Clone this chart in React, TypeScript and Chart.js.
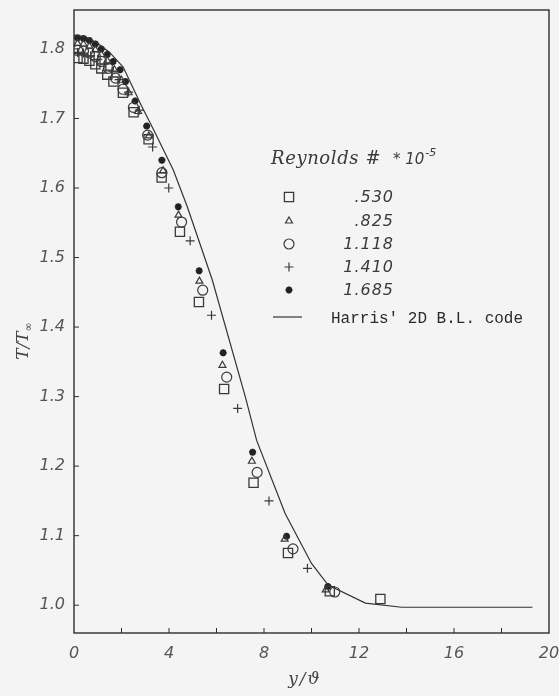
import React, { useEffect, useRef } from 'react';
import { Chart, registerables } from 'chart.js';
Chart.register(...registerables);

// ---- axis ranges & ticks ----
const X_MIN = 0;
const X_MAX = 20;
const Y_MIN = 0.96;
const Y_MAX = 1.856;
const xTickValues = [0, 2, 4, 6, 8, 10, 12, 14, 16, 18, 20];
const xLabelValues = [0, 4, 8, 12, 16, 20];
const yTickValues = [1.0, 1.1, 1.2, 1.3, 1.4, 1.5, 1.6, 1.7, 1.8];

// ---- legend / titles ----
const legendTitle = 'Reynolds #';
const legendFactor = '* 10';
const legendExp = '-5';
const seriesLabels = ['.530', '.825', '1.118', '1.410', '1.685'];
const curveLabel = "Harris' 2D B.L. code";
const xTitle = 'y/\u03D1';
const yTitleMain = 'T/T';
const yTitleSub = '\u221E';

// ---- data ----
const re530X = [0.15, 0.4, 0.65, 0.9, 1.15, 1.4, 1.66, 2.06, 2.51, 3.14, 3.69, 4.46, 5.26, 6.32, 7.56, 9.01, 10.77, 12.9];
const re530Y = [1.787, 1.786, 1.783, 1.778, 1.772, 1.763, 1.753, 1.737, 1.709, 1.67, 1.615, 1.537, 1.436, 1.311, 1.176, 1.075, 1.02, 1.009];

const re825X = [0.15, 0.4, 0.65, 0.9, 1.15, 1.4, 1.7, 2.0, 2.3, 2.7, 3.15, 3.75, 4.4, 5.28, 6.25, 7.49, 8.87, 10.6];
const re825Y = [1.808, 1.807, 1.804, 1.799, 1.792, 1.783, 1.77, 1.755, 1.737, 1.71, 1.675, 1.625, 1.561, 1.466, 1.345, 1.207, 1.095, 1.022];

const re1118X = [0.15, 0.4, 0.65, 0.9, 1.15, 1.45, 1.75, 2.06, 2.5, 3.1, 3.7, 4.53, 5.42, 6.43, 7.71, 9.22, 10.98];
const re1118Y = [1.798, 1.797, 1.794, 1.789, 1.782, 1.772, 1.758, 1.742, 1.716, 1.676, 1.622, 1.551, 1.453, 1.328, 1.191, 1.081, 1.019];

const re1410X = [0.15, 0.4, 0.7, 1.0, 1.3, 1.6, 1.9, 2.3, 2.75, 3.31, 3.99, 4.89, 5.79, 6.89, 8.21, 9.83];
const re1410Y = [1.795, 1.794, 1.79, 1.785, 1.778, 1.768, 1.756, 1.738, 1.712, 1.659, 1.6, 1.524, 1.417, 1.283, 1.15, 1.053];

const re1685X = [0.15, 0.4, 0.65, 0.9, 1.15, 1.4, 1.65, 1.94, 2.17, 2.57, 3.06, 3.7, 4.39, 5.27, 6.28, 7.52, 8.95, 10.69];
const re1685Y = [1.816, 1.815, 1.812, 1.807, 1.8, 1.792, 1.782, 1.77, 1.753, 1.725, 1.689, 1.64, 1.573, 1.481, 1.363, 1.22, 1.099, 1.027];

const harrisX = [0, 0.5, 1.0, 1.5, 2.07, 2.83, 3.42, 4.18, 4.77, 5.82, 7.22, 7.69, 8.89, 10.0, 10.7, 12.27, 13.8, 19.3];
const harrisY = [1.82, 1.817, 1.808, 1.795, 1.774, 1.719, 1.679, 1.626, 1.573, 1.468, 1.299, 1.237, 1.132, 1.06, 1.029, 1.003, 0.997, 0.997];

const pts = (xs: number[], ys: number[]) => xs.map((x, i) => ({ x, y: ys[i] }));

const INK = '#3a3a3a';
const BG = '#f4f4f4';

type Mk = { style: string; r: number; w: number; color: string };
const markers: Mk[] = [
  { style: 'rect', r: 6.5, w: 1.3, color: INK },
  { style: 'triangle', r: 4, w: 1.2, color: INK },
  { style: 'circle', r: 5, w: 1.2, color: INK },
  { style: 'cross', r: 4.5, w: 1.2, color: INK },
  { style: 'star', r: 3.5, w: 2.2, color: '#222' },
];

function drawMarker(ctx: CanvasRenderingContext2D, m: Mk, x: number, y: number) {
  ctx.save();
  ctx.strokeStyle = m.color;
  ctx.lineWidth = m.w;
  ctx.beginPath();
  const r = m.r;
  if (m.style === 'rect') {
    const s = r * Math.SQRT1_2;
    ctx.rect(x - s, y - s, 2 * s, 2 * s);
  } else if (m.style === 'triangle') {
    let a = 0;
    ctx.moveTo(x + Math.sin(a) * r, y - Math.cos(a) * r);
    a += (2 * Math.PI) / 3;
    ctx.lineTo(x + Math.sin(a) * r, y - Math.cos(a) * r);
    a += (2 * Math.PI) / 3;
    ctx.lineTo(x + Math.sin(a) * r, y - Math.cos(a) * r);
    ctx.closePath();
  } else if (m.style === 'circle') {
    ctx.arc(x, y, r, 0, Math.PI * 2);
  } else if (m.style === 'cross') {
    ctx.moveTo(x, y - r); ctx.lineTo(x, y + r);
    ctx.moveTo(x - r, y); ctx.lineTo(x + r, y);
  } else if (m.style === 'star') {
    ctx.moveTo(x, y - r); ctx.lineTo(x, y + r);
    ctx.moveTo(x - r, y); ctx.lineTo(x + r, y);
    const d = r * Math.SQRT1_2;
    ctx.moveTo(x - d, y - d); ctx.lineTo(x + d, y + d);
    ctx.moveTo(x - d, y + d); ctx.lineTo(x + d, y - d);
  }
  ctx.stroke();
  ctx.restore();
}

const decor = {
  id: 'decor',
  beforeDraw(chart: any) {
    const ctx = chart.ctx;
    ctx.save();
    ctx.fillStyle = BG;
    ctx.fillRect(0, 0, chart.width, chart.height);
    ctx.restore();
  },
  afterDraw(chart: any) {
    const { ctx, chartArea: a, scales } = chart;
    const xs = scales.x;
    const ys = scales.y;
    ctx.save();
    // frame
    ctx.strokeStyle = '#2e2e2e';
    ctx.lineWidth = 1.4;
    ctx.strokeRect(a.left, a.top, a.right - a.left, a.bottom - a.top);
    // inward ticks
    ctx.lineWidth = 1;
    ctx.beginPath();
    xs.ticks.forEach((t: any) => {
      if (t.value > X_MIN && t.value < X_MAX) {
        const px = xs.getPixelForValue(t.value);
        ctx.moveTo(px, a.bottom);
        ctx.lineTo(px, a.bottom - 5);
      }
    });
    ys.ticks.forEach((t: any) => {
      const py = ys.getPixelForValue(t.value);
      ctx.moveTo(a.left, py);
      ctx.lineTo(a.left + 5, py);
    });
    ctx.stroke();

    // x title
    ctx.fillStyle = '#444';
    ctx.font = 'italic 17px "DejaVu Serif"';
    (ctx as any).letterSpacing = '2px';
    ctx.textAlign = 'center';
    ctx.textBaseline = 'middle';
    ctx.fillText(xTitle, 305, 680);
    (ctx as any).letterSpacing = '0px';

    // y title (rotated)
    ctx.save();
    ctx.translate(22, 341);
    ctx.rotate(-Math.PI / 2);
    ctx.font = 'italic 17px "DejaVu Serif"';
    const wMain = ctx.measureText(yTitleMain).width;
    ctx.font = '11px "DejaVu Sans"';
    const wSub = ctx.measureText(yTitleSub).width;
    const start = -(wMain + wSub) / 2;
    ctx.textAlign = 'left';
    ctx.textBaseline = 'alphabetic';
    ctx.font = 'italic 17px "DejaVu Serif"';
    ctx.fillText(yTitleMain, start, 6);
    ctx.font = '11px "DejaVu Sans"';
    ctx.fillText(yTitleSub, start + wMain, 10);
    ctx.restore();

    // legend header
    ctx.fillStyle = '#3a3a3a';
    ctx.textAlign = 'left';
    ctx.textBaseline = 'alphabetic';
    ctx.font = 'italic 18px "DejaVu Serif"';
    (ctx as any).letterSpacing = '0.6px';
    ctx.fillText(legendTitle, 271, 164);
    (ctx as any).letterSpacing = '0px';
    ctx.font = 'italic 15px "DejaVu Sans"';
    ctx.fillText(legendFactor, 393, 164);
    const wf = ctx.measureText(legendFactor).width;
    ctx.font = 'italic 11px "DejaVu Sans"';
    ctx.fillText(legendExp, 393 + wf + 1, 156);

    // legend entries
    const rowsY = [197, 221, 244, 267, 290];
    ctx.font = 'italic 16px "DejaVu Sans"';
    (ctx as any).letterSpacing = '1px';
    ctx.textAlign = 'right';
    ctx.textBaseline = 'middle';
    rowsY.forEach((yy, i) => {
      drawMarker(ctx, markers[i], 289, yy);
      ctx.fillStyle = '#3a3a3a';
      ctx.fillText(seriesLabels[i], 394, yy + 1);
    });
    (ctx as any).letterSpacing = '0px';
    ctx.strokeStyle = '#333';
    ctx.lineWidth = 1.2;
    ctx.beginPath();
    ctx.moveTo(273, 317);
    ctx.lineTo(302, 317);
    ctx.stroke();
    ctx.font = '16px "Liberation Mono"';
    ctx.textAlign = 'left';
    ctx.fillStyle = '#2a2a2a';
    ctx.fillText(curveLabel, 331, 319);
    ctx.restore();
  },
};

const seriesX = [re530X, re825X, re1118X, re1410X, re1685X];
const seriesY = [re530Y, re825Y, re1118Y, re1410Y, re1685Y];

export default function App() {
  const ref = useRef<HTMLCanvasElement | null>(null);
  useEffect(() => {
    if (!ref.current) return;
    const datasets: any[] = [
      {
        label: curveLabel,
        data: pts(harrisX, harrisY),
        showLine: true,
        borderColor: '#333',
        borderWidth: 1.2,
        pointRadius: 0,
        tension: 0,
      },
    ];
    seriesX.forEach((xs, i) => {
      const m = markers[i];
      datasets.push({
        label: seriesLabels[i],
        data: pts(xs, seriesY[i]),
        showLine: false,
        pointStyle: m.style,
        pointRadius: m.r,
        pointBorderWidth: m.w,
        pointBorderColor: m.color,
        pointBackgroundColor: 'rgba(0,0,0,0)',
        borderColor: m.color,
        backgroundColor: 'rgba(0,0,0,0)',
      });
    });
    const tickFont = { family: 'DejaVu Sans', style: 'italic' as const, size: 16 };
    const chart = new Chart(ref.current, {
      type: 'scatter',
      data: { datasets },
      options: {
        animation: false,
        responsive: false,
        devicePixelRatio: 1,
        layout: { padding: { top: 10, right: 10, left: 0, bottom: 0 } },
        plugins: { legend: { display: false }, tooltip: { enabled: false } },
        events: [],
        scales: {
          x: {
            type: 'linear',
            min: X_MIN,
            max: X_MAX,
            grid: { display: false, drawTicks: false },
            border: { display: false },
            afterBuildTicks: (s: any) => {
              s.ticks = xTickValues.map((v) => ({ value: v }));
            },
            afterFit: (s: any) => {
              s.height = 63;
              s.paddingLeft = 0;
              s.paddingRight = 0;
            },
            ticks: {
              autoSkip: false,
              maxRotation: 0,
              padding: 11,
              color: '#555',
              font: tickFont,
              callback: (v: any) => (xLabelValues.includes(Number(v)) ? String(v) : ''),
            },
          },
          y: {
            type: 'linear',
            min: Y_MIN,
            max: Y_MAX,
            grid: { display: false, drawTicks: false },
            border: { display: false },
            afterBuildTicks: (s: any) => {
              s.ticks = yTickValues.map((v) => ({ value: v }));
            },
            afterFit: (s: any) => {
              s.width = 74;
              s.paddingTop = 0;
              s.paddingBottom = 0;
            },
            ticks: {
              autoSkip: false,
              padding: 9,
              color: '#555',
              font: tickFont,
              callback: (v: any) => Number(v).toFixed(1),
            },
          },
        },
      },
      plugins: [decor],
    });
    return () => chart.destroy();
  }, []);
  return (
    <div style={{ position: 'fixed', left: 0, top: 0, width: 559, height: 696, background: BG }}>
      <canvas ref={ref} width={559} height={696} style={{ display: 'block', width: 559, height: 696 }} />
    </div>
  );
}
